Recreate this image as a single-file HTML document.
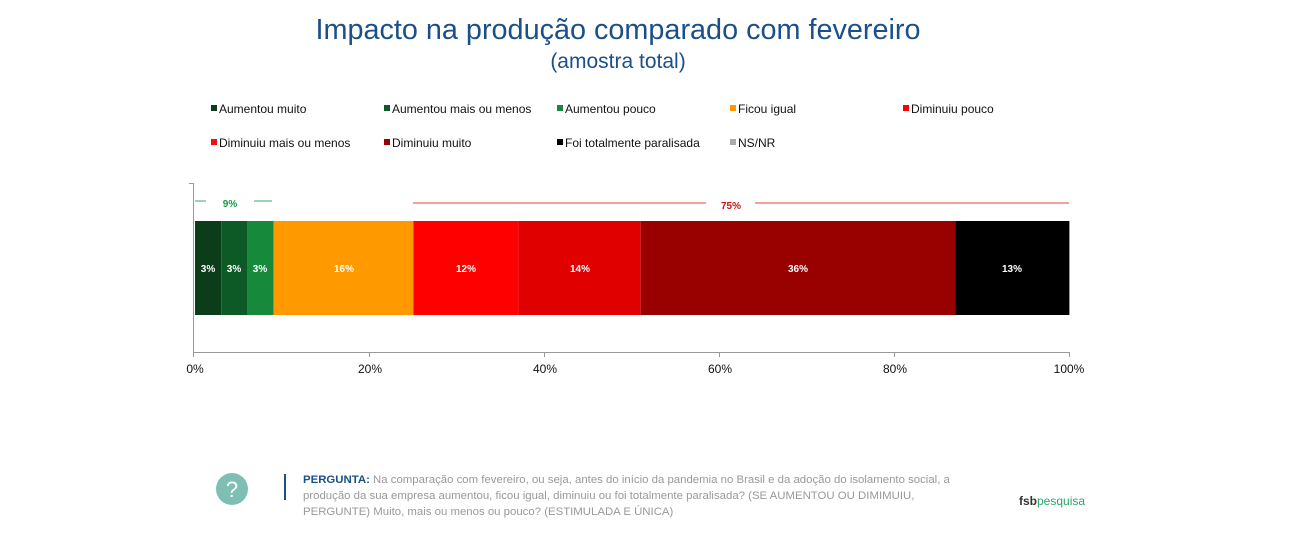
<!DOCTYPE html>
<html><head><meta charset="utf-8"><style>
body{margin:0;background:#fff;width:1292px;height:531px;overflow:hidden;font-family:"Liberation Sans",sans-serif}
</style></head><body>
<svg width="1292" height="531" xmlns="http://www.w3.org/2000/svg" font-family="Liberation Sans, sans-serif">
<text x="618" y="39" text-anchor="middle" font-size="28.8" fill="#1b4f8a">Impacto na produção comparado com fevereiro</text>
<text x="618" y="68" text-anchor="middle" font-size="21" fill="#1b4f8a">(amostra total)</text>
<g font-size="12" fill="#111">
<rect x="211" y="105" width="6" height="6" fill="#0b3d1a"/><text x="219" y="113">Aumentou muito</text>
<rect x="384" y="105" width="6" height="6" fill="#0e5a26"/><text x="392" y="113">Aumentou mais ou menos</text>
<rect x="557" y="105" width="6" height="6" fill="#168a3a"/><text x="565" y="113">Aumentou pouco</text>
<rect x="730" y="105" width="6" height="6" fill="#ff9900"/><text x="738" y="113">Ficou igual</text>
<rect x="903" y="105" width="6" height="6" fill="#ff0000"/><text x="911" y="113">Diminuiu pouco</text>
<rect x="211" y="139" width="6" height="6" fill="#ee1111"/><text x="219" y="147">Diminuiu mais ou menos</text>
<rect x="384" y="139" width="6" height="6" fill="#990000"/><text x="392" y="147">Diminuiu muito</text>
<rect x="557" y="139" width="6" height="6" fill="#000"/><text x="565" y="147">Foi totalmente paralisada</text>
<rect x="730" y="139" width="6" height="6" fill="#aaa"/><text x="738" y="147">NS/NR</text>
</g>
<line x1="193.5" y1="183" x2="193.5" y2="352" stroke="#999"/>
<line x1="189" y1="183.5" x2="193" y2="183.5" stroke="#999"/>
<line x1="193" y1="352.5" x2="1069" y2="352.5" stroke="#999"/>
<g stroke="#999"><line x1="193.5" y1="352" x2="193.5" y2="357"/><line x1="369.5" y1="352" x2="369.5" y2="357"/><line x1="544.5" y1="352" x2="544.5" y2="357"/><line x1="719.5" y1="352" x2="719.5" y2="357"/><line x1="894.5" y1="352" x2="894.5" y2="357"/><line x1="1069.5" y1="352" x2="1069.5" y2="357"/></g>
<g font-size="12" fill="#111" text-anchor="middle">
<text x="195" y="373">0%</text><text x="370" y="373">20%</text><text x="545" y="373">40%</text><text x="720" y="373">60%</text><text x="895" y="373">80%</text><text x="1069" y="373">100%</text>
</g>
<line x1="195" y1="201" x2="206" y2="201" stroke="#7fc4a0" stroke-width="1.5"/>
<line x1="254" y1="201" x2="272" y2="201" stroke="#7fc4a0" stroke-width="1.5"/>
<text x="230" y="207" font-size="10" font-weight="bold" fill="#1a9a4a" text-anchor="middle">9%</text>
<line x1="413" y1="203" x2="706" y2="203" stroke="#f08080" stroke-width="1.5"/>
<line x1="755" y1="203" x2="1069" y2="203" stroke="#f08080" stroke-width="1.5"/>
<text x="731" y="209" font-size="10" font-weight="bold" fill="#cc1111" text-anchor="middle">75%</text>
<rect x="195" y="221" width="26.2" height="94" fill="#0b3d1a"/>
<rect x="221.2" y="221" width="26.2" height="94" fill="#0e5a26"/>
<rect x="247.4" y="221" width="26.3" height="94" fill="#168a3a"/>
<rect x="273.7" y="221" width="139.8" height="94" fill="#ff9900"/>
<rect x="413.5" y="221" width="104.9" height="94" fill="#ff0000"/>
<rect x="518.4" y="221" width="122.3" height="94" fill="#e00000"/>
<rect x="640.7" y="221" width="314.7" height="94" fill="#990000"/>
<rect x="955.4" y="221" width="114" height="94" fill="#000"/>
<g font-size="10" font-weight="bold" fill="#fff" text-anchor="middle">
<text x="208" y="272">3%</text><text x="234" y="272">3%</text><text x="260" y="272">3%</text><text x="344" y="272">16%</text><text x="466" y="272">12%</text><text x="580" y="272">14%</text><text x="798" y="272">36%</text><text x="1012" y="272">13%</text>
</g>
<circle cx="232" cy="489" r="16" fill="#7fbfb3"/>
<text x="232" y="497" font-size="22" fill="#fff" text-anchor="middle">?</text>
<rect x="284" y="474" width="2" height="26" fill="#1b4f8a"/>
<g font-size="11.4" fill="#999">
<text x="303" y="483"><tspan fill="#1b4f8a" font-weight="bold">PERGUNTA:</tspan> Na comparação com fevereiro, ou seja, antes do início da pandemia no Brasil e da adoção do isolamento social, a</text>
<text x="303" y="499">produção da sua empresa aumentou, ficou igual, diminuiu ou foi totalmente paralisada? (SE AUMENTOU OU DIMIMUIU,</text>
<text x="303" y="515">PERGUNTE) Muito, mais ou menos ou pouco? (ESTIMULADA E ÚNICA)</text>
</g>
<text x="1019" y="505" font-size="12" font-weight="bold" fill="#333">fsb<tspan fill="#2aa36b" font-weight="normal">pesquisa</tspan></text>
</svg>
</body></html>
